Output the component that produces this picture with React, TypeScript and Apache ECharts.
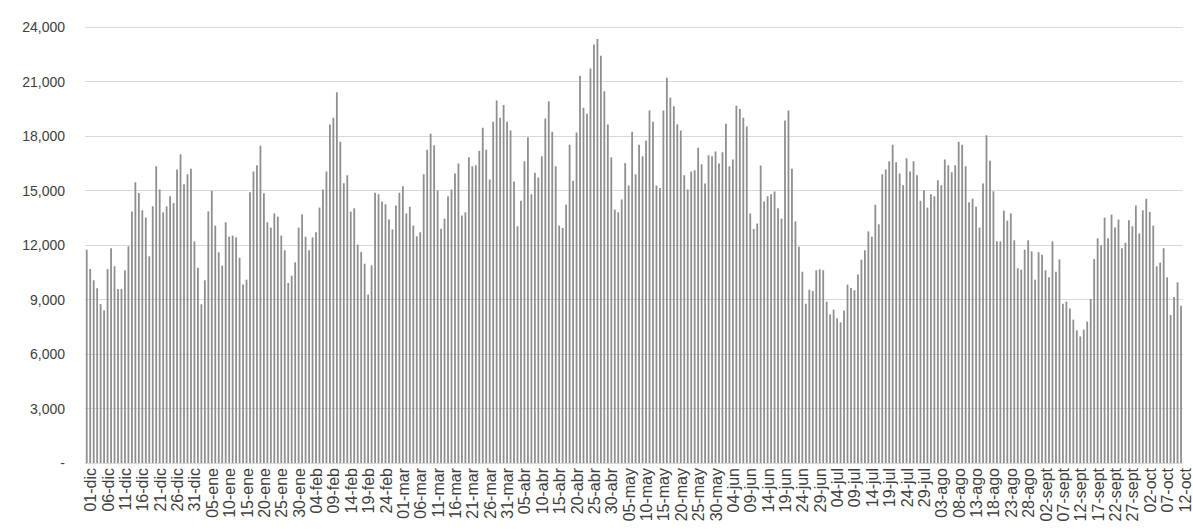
import React, { useEffect, useRef } from "react";
import * as echarts from "echarts";

// Daily values, starting 01-dic
const values: number[] = [
  11740, 10680, 10060, 9620, 8750, 8400, 10680, 11820, 10830, 9580,
  9580, 10610, 11930, 13840, 15450, 14860, 13910, 13510, 11380, 14130,
  16330, 15050, 13800, 14130, 14680, 14310, 16150, 16990, 15340, 15890,
  16200, 12200, 10750, 8740, 10060, 13850, 14990, 13070, 11600, 10860,
  13250, 12460, 12520, 12420, 11300, 9820, 10090, 14900, 16040, 16390,
  17470, 14850, 13250, 12960, 13740, 13560, 12520, 11710, 9910, 10310,
  11050, 12960, 13690, 12460, 11710, 12420, 12700, 14060, 15050, 16040,
  18630, 19010, 20410, 17690, 15400, 15840, 13840, 14020, 12020, 11620,
  10970, 9270, 10880, 14880, 14790, 14390, 14240, 13400, 12860, 14170,
  14880, 15230, 13740, 14110, 13070, 12480, 12700, 15890, 17250, 18130,
  17490, 15010, 12900, 13450, 14680, 15050, 15930, 16480, 13620, 13800,
  16830, 16330, 16390, 17190, 18460, 17250, 15600, 18790, 19960, 19010,
  19710, 18790, 18300, 15490, 13030, 14440, 16610, 17930, 14790, 15980,
  15710, 16880, 18970, 19910, 18240, 16330, 13070, 12940, 14220, 17520,
  15540, 18190, 21320, 19560, 19230, 21710, 23030, 23340, 22420, 20460,
  18630, 16830, 13950, 13800, 14500, 16520, 15270, 18240, 15890, 17520,
  16880, 17740, 19410, 18790, 15270, 15140, 19410, 21210, 20110, 19640,
  18640, 18300, 15840, 15050, 16040, 16110, 17360, 16440, 15380, 16940,
  16880, 17140, 16480, 17100, 18680, 16330, 16700, 19670, 19490, 19010,
  18520, 13740, 12880, 13180, 16370, 14390, 14680, 14790, 14940, 14020,
  13450, 18850, 19410, 16200, 13300, 11910, 10530, 8770, 9540, 9470,
  10610, 10660, 10610, 8880, 8180, 8440, 7960, 7740, 8400, 9820,
  9630, 9510, 10370, 11190, 11710, 12750, 12460, 14220, 13140, 15890,
  16150, 16610, 17520, 16550, 15930, 15290, 16770, 16040, 16610, 15840,
  14440, 15010, 14060, 14790, 14680, 15560, 15290, 16700, 16390, 16000,
  16390, 17690, 17520, 16330, 14350, 14550, 14110, 12960, 15380, 18040,
  16640, 14960, 12200, 12200, 13890, 13340, 13740, 12260, 10720, 10640,
  11740, 12260, 11650, 10090, 11600, 11470, 10610, 10220, 12200, 10530,
  11210, 8770, 8880, 8510, 7890, 7300, 6970, 7340, 7780, 9030,
  11230, 12370, 11980, 13510, 12370, 13670, 12970, 13400, 11820, 12130,
  13360, 13030, 14170, 12640, 13910, 14550, 13820, 13070, 10830, 11030,
  11820, 10220, 8150, 9140, 9950, 8660,
];

const monthNames: string[] = ["dic", "ene", "feb", "mar", "abr", "may", "jun", "jul", "ago", "sept", "oct"];
const monthDays: number[] = [31, 31, 28, 31, 30, 31, 30, 31, 31, 30, 31];

const categories: string[] = (() => {
  const out: string[] = [];
  for (let m = 0; m < monthNames.length && out.length < values.length; m++) {
    for (let d = 1; d <= monthDays[m] && out.length < values.length; d++) {
      out.push((d < 10 ? "0" : "") + d + "-" + monthNames[m]);
    }
  }
  return out;
})();

const yTicks = { min: 0, max: 24000, interval: 3000 };

export default function App() {
  const ref = useRef<HTMLDivElement>(null);
  useEffect(() => {
    document.body.style.margin = "0";
    if (!ref.current) return;
    const chart = echarts.init(ref.current, undefined, { renderer: "svg" });
    const textColor = "#404040";
    const font = "'Liberation Sans', Arial, sans-serif";
    chart.setOption({
      animation: false,
      backgroundColor: "#ffffff",
      grid: { left: 85, top: 27, width: 1109.5, height: 436, containLabel: false },
      xAxis: {
        type: "category",
        data: categories,
        boundaryGap: true,
        axisLine: { show: true, lineStyle: { color: "#d9d9d9", width: 1 } },
        axisTick: { show: false },
        axisLabel: {
          interval: 4,
          rotate: 90,
          color: textColor,
          fontSize: 16,
          fontFamily: font,
          margin: 5,
          verticalAlign: "top",
          lineHeight: 8,
          hideOverlap: false,
        },
        splitLine: { show: false },
      },
      yAxis: {
        type: "value",
        min: yTicks.min,
        max: yTicks.max,
        interval: yTicks.interval,
        axisLine: { show: false },
        axisTick: { show: false },
        splitLine: { lineStyle: { color: "#d9d9d9", width: 1 } },
        axisLabel: {
          color: textColor,
          fontSize: 14,
          fontFamily: font,
          margin: 20,
          formatter: (v: number) => (v === 0 ? "-" : v.toLocaleString("en-US")),
        },
      },
      series: [
        {
          type: "bar",
          data: values,
          barWidth: 1.8,
          itemStyle: { color: "#8f8f8f" },
        },
      ],
    });
    return () => chart.dispose();
  }, []);
  return <div ref={ref} style={{ width: 1193, height: 529 }} />;
}
